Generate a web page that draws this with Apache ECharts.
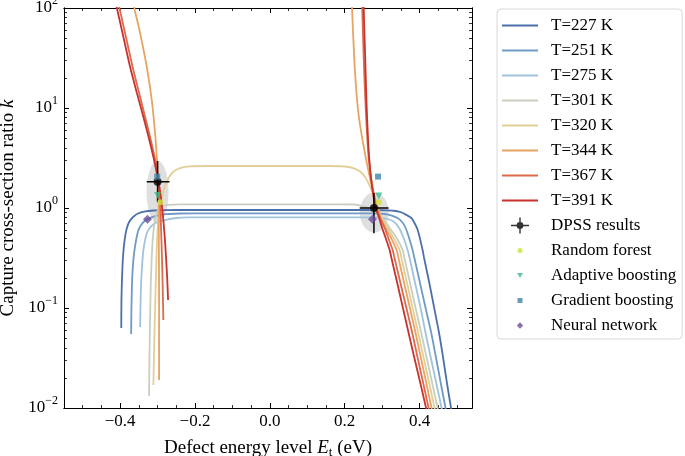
<!DOCTYPE html>
<html><head><meta charset="utf-8">
<script src="https://cdn.jsdelivr.net/npm/echarts@6/dist/echarts.min.js"></script>
<style>html,body{margin:0;padding:0;background:#fff}#c{width:685px;height:456px}</style>
</head><body><div id="c"></div>
<script>
// ---------------- data ----------------
const tempNames = ['T=227 K','T=251 K','T=275 K','T=301 K','T=320 K','T=344 K','T=367 K','T=391 K'];

const t227 = [[-0.397,0.0631],[-0.3965,0.120],[-0.3947,0.214],[-0.392,0.339],[-0.388,0.479],[-0.3827,0.617],[-0.376,0.724],[-0.3653,0.813],[-0.352,0.881],[-0.333,0.923],[-0.312,0.944],[-0.28,0.953],[-0.24,0.955],[0.0,0.955],[0.28,0.955],[0.315,0.948],[0.336,0.933],[0.352,0.902],[0.365,0.851],[0.378,0.794],[0.385,0.724],[0.395,0.603],[0.408,0.380],[0.412,0.316],[0.426,0.178],[0.439,0.100],[0.452,0.0562],[0.463,0.0316],[0.473,0.0178],[0.484,0.0100],[0.488,0.0079]];
const t251 = [[-0.3707,0.0550],[-0.3699,0.0955],[-0.3688,0.151],[-0.3667,0.240],[-0.3627,0.355],[-0.3573,0.479],[-0.352,0.589],[-0.344,0.676],[-0.3333,0.750],[-0.32,0.798],[-0.3013,0.841],[-0.2773,0.867],[-0.24,0.881],[-0.2,0.885],[0.0,0.885],[0.28,0.885],[0.3067,0.871],[0.3253,0.841],[0.3413,0.794],[0.3533,0.724],[0.3627,0.631],[0.372,0.501],[0.3813,0.380],[0.3861,0.316],[0.4011,0.178],[0.416,0.100],[0.4312,0.0562],[0.444,0.0316],[0.4565,0.0178],[0.4693,0.0100],[0.4747,0.0079]];
const t275 = [[-0.3467,0.0646],[-0.3453,0.120],[-0.344,0.178],[-0.3413,0.269],[-0.3379,0.380],[-0.3333,0.479],[-0.3288,0.562],[-0.32,0.638],[-0.3112,0.684],[-0.2987,0.724],[-0.2755,0.767],[-0.2507,0.794],[-0.2213,0.807],[0.0,0.807],[0.2667,0.807],[0.2933,0.803],[0.3147,0.776],[0.332,0.724],[0.3453,0.631],[0.3573,0.501],[0.368,0.380],[0.3733,0.316],[0.388,0.178],[0.4027,0.100],[0.416,0.0562],[0.4301,0.0316],[0.4445,0.0178],[0.4587,0.0100],[0.464,0.0079]];
const t301 = [[-0.3227,0.0132],[-0.3219,0.0302],[-0.32,0.0759],[-0.3179,0.191],[-0.3147,0.380],[-0.3107,0.603],[-0.3053,0.813],[-0.2987,0.955],[-0.288,1.035],[-0.272,1.072],[-0.24,1.089],[0.0,1.089],[0.1867,1.089],[0.2267,1.084],[0.2453,1.047],[0.264,1.000],[0.2827,0.912],[0.3013,0.794],[0.32,0.631],[0.3387,0.501],[0.3547,0.380],[0.3595,0.316],[0.3744,0.178],[0.3893,0.100],[0.4045,0.0562],[0.4189,0.0316],[0.4336,0.0178],[0.448,0.0100],[0.4539,0.0079]];
const t320 = [[-0.3112,0.0170],[-0.3088,0.0479],[-0.3061,0.120],[-0.3032,0.302],[-0.300,0.603],[-0.296,0.912],[-0.2907,1.20],[-0.2827,1.55],[-0.272,1.95],[-0.2587,2.29],[-0.24,2.51],[-0.2133,2.61],[-0.16,2.63],[0.08,2.63],[0.16,2.63],[0.20,2.60],[0.2267,2.48],[0.2427,2.29],[0.256,2.00],[0.2693,1.585],[0.2787,1.26],[0.288,1.00],[0.2987,0.794],[0.3147,0.631],[0.3307,0.501],[0.3467,0.380],[0.3515,0.316],[0.3664,0.178],[0.3813,0.100],[0.3965,0.0562],[0.4109,0.0316],[0.4256,0.0178],[0.44,0.0100],[0.4459,0.0079]];
const t344Left = [[-0.364,151],[-0.3619,100],[-0.3547,75.9],[-0.3467,56.2],[-0.3288,25.7],[-0.3155,12.0],[-0.3067,5.62],[-0.3021,3.24],[-0.2995,2.14],[-0.2979,1.82],[-0.2971,1.20],[-0.2965,0.380],[-0.296,0.120],[-0.296,0.0191]];
const t344Right = [[0.2179,151],[0.2195,100],[0.2267,25.7],[0.2355,9.55],[0.2488,4.47],[0.2667,2.04],[0.28,1.29],[0.288,1.023],[0.296,0.794],[0.3093,0.631],[0.324,0.501],[0.3387,0.380],[0.3435,0.316],[0.3587,0.178],[0.3741,0.100],[0.3893,0.0562],[0.4035,0.0316],[0.4179,0.0178],[0.432,0.0100],[0.4379,0.0079]];
const t367Left = [[-0.4133,151],[-0.4019,100],[-0.384,50.1],[-0.3667,25.7],[-0.3493,14.1],[-0.3333,8.13],[-0.32,5.13],[-0.308,3.24],[-0.3013,2.40],[-0.2979,1.82],[-0.2947,1.35],[-0.292,0.851],[-0.2893,0.427],[-0.2867,0.191],[-0.2845,0.0759]];
const t367Right = [[0.2453,151],[0.2467,100],[0.2507,31.6],[0.256,10.0],[0.264,3.16],[0.2747,1.585],[0.2853,1.00],[0.2947,0.794],[0.3067,0.631],[0.3163,0.501],[0.328,0.380],[0.3331,0.316],[0.3488,0.178],[0.3648,0.100],[0.3805,0.0562],[0.3949,0.0316],[0.4096,0.0178],[0.424,0.0100],[0.4299,0.0079]];
const t391Left = [[-0.4203,151],[-0.4088,100],[-0.3907,50.1],[-0.3733,25.7],[-0.3552,14.1],[-0.3379,8.13],[-0.324,5.13],[-0.3112,3.24],[-0.3027,2.29],[-0.2973,1.82],[-0.292,1.35],[-0.2867,0.912],[-0.2813,0.537],[-0.2773,0.316],[-0.2741,0.191],[-0.272,0.120]];
const t391Right = [[0.2501,151],[0.2507,100],[0.2547,31.6],[0.2587,10.0],[0.2653,3.16],[0.2733,1.585],[0.2827,1.00],[0.292,0.794],[0.300,0.631],[0.3093,0.501],[0.320,0.380],[0.3248,0.316],[0.3403,0.178],[0.3555,0.100],[0.3707,0.0562],[0.3861,0.0316],[0.4019,0.0178],[0.4173,0.0100],[0.4235,0.0079]];

// DPSS results (centre, x error range, k error range) and uncertainty regions
const dpssX = [-0.300, 0.278];
const dpssK = [1.83, 1.00];
const dpssXErr = [[-0.329, -0.268], [0.240, 0.317]];
const dpssKErr = [[1.14, 2.95], [0.56, 1.41]];
const regionCentres = [[-0.300, 1.445], [0.279, 0.90]];

// machine-learning predictions
const randomForest = [[-0.293, 1.14], [0.291, 1.14]];
const adaptiveBoosting = [[-0.300, 1.33], [0.291, 1.32]];
const gradientBoosting = [[-0.301, 2.06], [0.289, 2.06]];
const neuralNetwork = [[-0.327, 0.77], [0.274, 0.77]];

// ticks
const xMajor = [-0.4, -0.2, 0, 0.2, 0.4];
const xMinor = [-0.55,-0.5,-0.45,-0.35,-0.3,-0.25,-0.15,-0.1,-0.05,0.05,0.1,0.15,0.25,0.3,0.35,0.45,0.5];
const yMinor = [0.02,0.03,0.04,0.05,0.06,0.07,0.08,0.09,0.2,0.3,0.4,0.5,0.6,0.7,0.8,0.9,2,3,4,5,6,7,8,9,20,30,40,50,60,70,80,90];

// ---------------- styling ----------------
const FONT = "'Liberation Serif', 'DejaVu Serif', serif";
const tempColors = ['#4d70aa','#6f9bc5','#a2c3dc','#c9cfbf','#e2cf98','#e7a463','#dd6a4c','#c8332d'];
const branches = [[t227],[t251],[t275],[t301],[t320],[t344Left,t344Right],[t367Left,t367Right],[t391Left,t391Right]];

const series = [];
series.push({type:'scatter', name:'DPSS results', data: dpssX.map((x,i)=>[x, dpssK[i]]),
  symbol:'circle', symbolSize:8, itemStyle:{color:'#000'}, z:6, silent:true});
series.push({type:'scatter', name:'_region', data: regionCentres.map((c,i)=>({value:c, symbolSize: i===0?[22,62]:[29,40]})),
  symbol:'circle', itemStyle:{color:'rgba(175,175,175,0.5)'}, z:1, silent:true});
branches.forEach((bs, ti) => {
  bs.forEach(d => {
    series.push({type:'line', name: tempNames[ti], data: d, symbol:'none', showSymbol:false, smooth:0.3, clip:true,
      lineStyle:{color: tempColors[ti], width:1.8}, itemStyle:{color: tempColors[ti]}, z:2+ti*0.01, silent:true});
  });
});
dpssX.forEach((x,i) => {
  series.push({type:'line', name:'_err', data:[[dpssXErr[i][0], dpssK[i]],[dpssXErr[i][1], dpssK[i]]], symbol:'none',
    lineStyle:{color:'#000', width:1.5}, z:5, silent:true});
  series.push({type:'line', name:'_err', data:[[x, dpssKErr[i][0]],[x, dpssKErr[i][1]]], symbol:'none',
    lineStyle:{color:'#000', width:1.5}, z:5, silent:true});
});
series.push({type:'scatter', name:'Random forest', data: randomForest, symbol:'circle', symbolSize:6, itemStyle:{color:'#cfe23a'}, z:7, silent:true});
series.push({type:'scatter', name:'Adaptive boosting', data: adaptiveBoosting, symbol:'triangle', symbolRotate:180, symbolSize:7, itemStyle:{color:'#3dba8a'}, z:7, silent:true});
series.push({type:'scatter', name:'Gradient boosting', data: gradientBoosting, symbol:'rect', symbolSize:6, itemStyle:{color:'#3f86ab'}, z:7, silent:true});
series.push({type:'scatter', name:'Neural network', data: neuralNetwork, symbol:'diamond', symbolSize:9, itemStyle:{color:'#6a4c9c'}, z:7, silent:true});

const box = 'M0,0 M36,16 ';
const lineIcon = 'path://' + box + 'M0,7.1 L36,7.1 L36,8.9 L0,8.9 Z';
const icons = {
  'DPSS results': 'path://' + box + 'M9,7.3 L27,7.3 L27,8.7 L9,8.7 Z M17.3,0 L18.7,0 L18.7,16 L17.3,16 Z M14.6,8 A3.4,3.4 0 1 1 21.4,8 A3.4,3.4 0 1 1 14.6,8 Z',
  'Random forest': 'path://' + box + 'M15.4,8 A2.6,2.6 0 1 1 20.6,8 A2.6,2.6 0 1 1 15.4,8 Z',
  'Adaptive boosting': 'path://' + box + 'M15,5.6 L21,5.6 L18,10.4 Z',
  'Gradient boosting': 'path://' + box + 'M15.5,5.5 L20.5,5.5 L20.5,10.5 L15.5,10.5 Z',
  'Neural network': 'path://' + box + 'M18,4.8 L21.2,8 L18,11.2 L14.8,8 Z'
};
const legendData = tempNames.map((n,i) => ({name:n, icon: lineIcon, itemStyle:{color: tempColors[i]}}))
  .concat(Object.keys(icons).map(n => ({name:n, icon: icons[n]})));

const xFmt = v => Math.abs(v) < 1e-9 ? '0.0' : (v < 0 ? '\u2212' : '') + Math.abs(v).toFixed(1);
const yFmt = v => { const e = Math.round(Math.log10(v)); return '{b|10}{s|' + (e < 0 ? '\u2212' + (-e) : e) + '}'; };
const lim = {xmin:-0.55, xmax:0.54, ymin:0.01, ymax:100};

function xAx(pos, major, labels) {
  return {type:'value', min:lim.xmin, max:lim.xmax, position:pos,
    axisLine:{show:true, onZero:false, lineStyle:{color:'#000', width:1}},
    axisTick:{show:true, inside:true, length: major?5:3, customValues: major?xMajor:xMinor, lineStyle:{color:'#000', width: major?1:0.8}},
    axisLabel: labels ? {show:true, customValues:xMajor, formatter:xFmt, margin:5, fontSize:17, fontFamily:FONT, color:'#000'} : {show:false},
    splitLine:{show:false}};
}
function yAx(pos, major, labels) {
  const a = {type:'log', logBase:10, min:lim.ymin, max:lim.ymax, position:pos,
    axisLine:{show:true, onZero:false, lineStyle:{color:'#000', width:1}},
    axisTick:{show:true, inside:true, length: major?5:3, lineStyle:{color:'#000', width: major?1:0.8}},
    axisLabel: labels ? {show:true, formatter:yFmt, margin:6, color:'#000',
      rich:{b:{fontSize:17, fontFamily:FONT, color:'#000', lineHeight:26}, s:{fontSize:12, fontFamily:FONT, color:'#000', lineHeight:14, verticalAlign:'top'}}} : {show:false},
    splitLine:{show:false}, minorTick:{show:false}};
  if (!major) a.axisTick.customValues = yMinor;
  return a;
}

const xAxes = [xAx('bottom', true, true), xAx('top', true, false), xAx('bottom', false, false), xAx('top', false, false)];
Object.assign(xAxes[0], {name:'{a|Defect energy level }{i|E}{s|t}{a| (eV)}', nameLocation:'middle', nameGap:29,
  nameTextStyle:{rich:{a:{fontSize:19, fontFamily:FONT, color:'#000', lineHeight:22},
    i:{fontSize:19, fontFamily:FONT, fontStyle:'italic', color:'#000', lineHeight:22},
    s:{fontSize:13, fontFamily:FONT, color:'#000', lineHeight:12, verticalAlign:'bottom'}}}});
const yAxes = [yAx('left', true, true), yAx('right', true, false), yAx('left', false, false), yAx('right', false, false)];
Object.assign(yAxes[0], {name:'{a|Capture cross-section ratio }{i|k}', nameLocation:'middle', nameGap:36, nameRotate:90,
  nameTextStyle:{rich:{a:{fontSize:19, fontFamily:FONT, color:'#000', lineHeight:24},
    i:{fontSize:19, fontFamily:FONT, fontStyle:'italic', color:'#000', lineHeight:24}}}});

const chart = echarts.init(document.getElementById('c'), null, {renderer:'canvas'});
chart.setOption({
  animation:false,
  backgroundColor:'#fff',
  textStyle:{fontFamily:FONT},
  grid:{left:64, right:213, top:8, bottom:48, containLabel:false, outerBoundsMode:'none'},
  legend:{orient:'vertical', left:497, top:9, itemWidth:36, itemHeight:16, itemGap:8,
    padding:[8,6,5,5], backgroundColor:'#fff', borderColor:'#d8d8d8', borderWidth:1, borderRadius:4,
    selectedMode:false, textStyle:{fontFamily:FONT, fontSize:17, color:'#000', padding:[0,0,0,8]},
    data: legendData},
  xAxis: xAxes,
  yAxis: yAxes,
  series: series
});
</script>
</body></html>
